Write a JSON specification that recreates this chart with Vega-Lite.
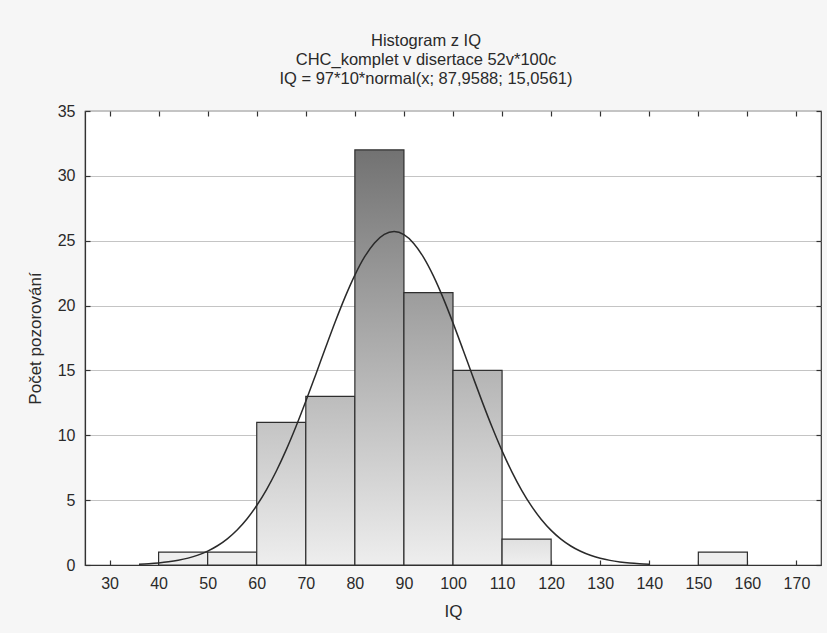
{
  "$schema": "https://vega.github.io/schema/vega-lite/v6.json",
  "width": 736,
  "height": 454,
  "autosize": "none",
  "padding": {"left": 85, "top": 111, "right": 6, "bottom": 68},
  "background": "#f6f6f6",
  "config": {
    "font": "Liberation Sans",
    "view": {"fill": "white", "stroke": "#333333", "strokeWidth": 1.2},
    "axis": {
      "labelFont": "Liberation Sans",
      "titleFont": "Liberation Sans",
      "labelFontSize": 16,
      "titleFontSize": 17,
      "titleFontWeight": "normal",
      "labelColor": "#2a2a2a",
      "titleColor": "#2a2a2a",
      "domainColor": "#333333",
      "tickColor": "#333333",
      "domainWidth": 1.2,
      "tickWidth": 1.2
    }
  },
  "title": {
    "text": ["Histogram z IQ", "CHC_komplet v disertace 52v*100c", "IQ = 97*10*normal(x; 87,9588; 15,0561)"],
    "font": "Liberation Sans",
    "fontSize": 16.5,
    "fontWeight": "normal",
    "color": "#2a2a2a",
    "lineHeight": 19,
    "anchor": "middle",
    "dx": -27,
    "offset": 16
  },
  "datasets": {
    "bins": [
      {"bin_start": 40, "bin_end": 50, "count": 1},
      {"bin_start": 50, "bin_end": 60, "count": 1},
      {"bin_start": 60, "bin_end": 70, "count": 11},
      {"bin_start": 70, "bin_end": 80, "count": 13},
      {"bin_start": 80, "bin_end": 90, "count": 32},
      {"bin_start": 90, "bin_end": 100, "count": 21},
      {"bin_start": 100, "bin_end": 110, "count": 15},
      {"bin_start": 110, "bin_end": 120, "count": 2},
      {"bin_start": 150, "bin_end": 160, "count": 1}
    ],
    "curve": [
      {"x": 36, "y": 0.067}, {"x": 38, "y": 0.105}, {"x": 40, "y": 0.161}, {"x": 42, "y": 0.244},
      {"x": 44, "y": 0.362}, {"x": 46, "y": 0.529}, {"x": 48, "y": 0.759}, {"x": 50, "y": 1.071},
      {"x": 52, "y": 1.484}, {"x": 54, "y": 2.020}, {"x": 56, "y": 2.702}, {"x": 58, "y": 3.550},
      {"x": 60, "y": 4.584}, {"x": 62, "y": 5.814}, {"x": 64, "y": 7.246}, {"x": 66, "y": 8.873},
      {"x": 68, "y": 10.675}, {"x": 70, "y": 12.619}, {"x": 72, "y": 14.655}, {"x": 74, "y": 16.723},
      {"x": 76, "y": 18.749}, {"x": 78, "y": 20.651}, {"x": 80, "y": 22.350}, {"x": 82, "y": 23.766},
      {"x": 84, "y": 24.829}, {"x": 86, "y": 25.485}, {"x": 88, "y": 25.702}, {"x": 90, "y": 25.467},
      {"x": 92, "y": 24.793}, {"x": 94, "y": 23.714}, {"x": 96, "y": 22.286}, {"x": 98, "y": 20.577},
      {"x": 100, "y": 18.667}, {"x": 102, "y": 16.638}, {"x": 104, "y": 14.570}, {"x": 106, "y": 12.537},
      {"x": 108, "y": 10.598}, {"x": 110, "y": 8.802}, {"x": 112, "y": 7.183}, {"x": 114, "y": 5.759},
      {"x": 116, "y": 4.537}, {"x": 118, "y": 3.511}, {"x": 120, "y": 2.669}, {"x": 122, "y": 1.994},
      {"x": 124, "y": 1.465}, {"x": 126, "y": 1.056}, {"x": 128, "y": 0.748}, {"x": 130, "y": 0.521},
      {"x": 132, "y": 0.356}, {"x": 134, "y": 0.240}, {"x": 136, "y": 0.158}, {"x": 138, "y": 0.103},
      {"x": 140, "y": 0.065}
    ]
  },
  "layer": [
    {
      "data": {"name": "bins"},
      "mark": {"type": "rect", "stroke": "#2e2e2e", "strokeWidth": 1.2},
      "encoding": {
        "x": {
          "field": "bin_start", "type": "quantitative",
          "scale": {"domain": [25, 175], "nice": false, "zero": false},
          "axis": {"title": "IQ", "values": [30, 40, 50, 60, 70, 80, 90, 100, 110, 120, 130, 140, 150, 160, 170],
                   "grid": false, "tickSize": -5, "labelPadding": 15, "titlePadding": 12, "labelFlush": false}
        },
        "x2": {"field": "bin_end"},
        "y": {
          "field": "count", "type": "quantitative",
          "scale": {"domain": [0, 35], "nice": false},
          "axis": {"title": "Počet pozorování", "values": [0, 5, 10, 15, 20, 25, 30, 35],
                   "grid": true, "gridColor": "#c4c4c4", "gridWidth": 1.2,
                   "tickSize": -5, "labelPadding": 15, "titlePadding": 13}
        },
        "y2": {"datum": 0},
        "color": {
          "condition": [
            {"test": "datum.count >= 30", "value": {"gradient": "linear", "x1": 0, "y1": 0, "x2": 0, "y2": 1, "stops": [{"offset": 0, "color": "#727272"}, {"offset": 1, "color": "#eeeeee"}]}},
            {"test": "datum.count >= 20", "value": {"gradient": "linear", "x1": 0, "y1": 0, "x2": 0, "y2": 1, "stops": [{"offset": 0, "color": "#9c9c9c"}, {"offset": 1, "color": "#eeeeee"}]}},
            {"test": "datum.count >= 14", "value": {"gradient": "linear", "x1": 0, "y1": 0, "x2": 0, "y2": 1, "stops": [{"offset": 0, "color": "#b4b4b4"}, {"offset": 1, "color": "#eeeeee"}]}},
            {"test": "datum.count >= 12", "value": {"gradient": "linear", "x1": 0, "y1": 0, "x2": 0, "y2": 1, "stops": [{"offset": 0, "color": "#bcbcbc"}, {"offset": 1, "color": "#eeeeee"}]}},
            {"test": "datum.count >= 10", "value": {"gradient": "linear", "x1": 0, "y1": 0, "x2": 0, "y2": 1, "stops": [{"offset": 0, "color": "#c4c4c4"}, {"offset": 1, "color": "#eeeeee"}]}},
            {"test": "datum.count >= 2", "value": {"gradient": "linear", "x1": 0, "y1": 0, "x2": 0, "y2": 1, "stops": [{"offset": 0, "color": "#e0e0e0"}, {"offset": 1, "color": "#efefef"}]}}
          ],
          "value": "#eeeeee"
        }
      }
    },
    {
      "data": {"name": "curve"},
      "mark": {"type": "line", "color": "#2a2a2a", "strokeWidth": 1.5, "interpolate": "monotone"},
      "encoding": {
        "x": {
          "field": "x", "type": "quantitative",
          "scale": {"domain": [25, 175], "nice": false, "zero": false},
          "axis": {"orient": "top", "title": null, "labels": false, "grid": false, "domain": false,
                   "values": [30, 40, 50, 60, 70, 80, 90, 100, 110, 120, 130, 140, 150, 160, 170], "tickSize": -5}
        },
        "y": {
          "field": "y", "type": "quantitative",
          "scale": {"domain": [0, 35], "nice": false},
          "axis": {"orient": "right", "title": null, "labels": false, "grid": false, "domain": false,
                   "values": [0, 5, 10, 15, 20, 25, 30, 35], "tickSize": -5}
        }
      }
    }
  ],
  "resolve": {"axis": {"x": "independent", "y": "independent"}}
}
